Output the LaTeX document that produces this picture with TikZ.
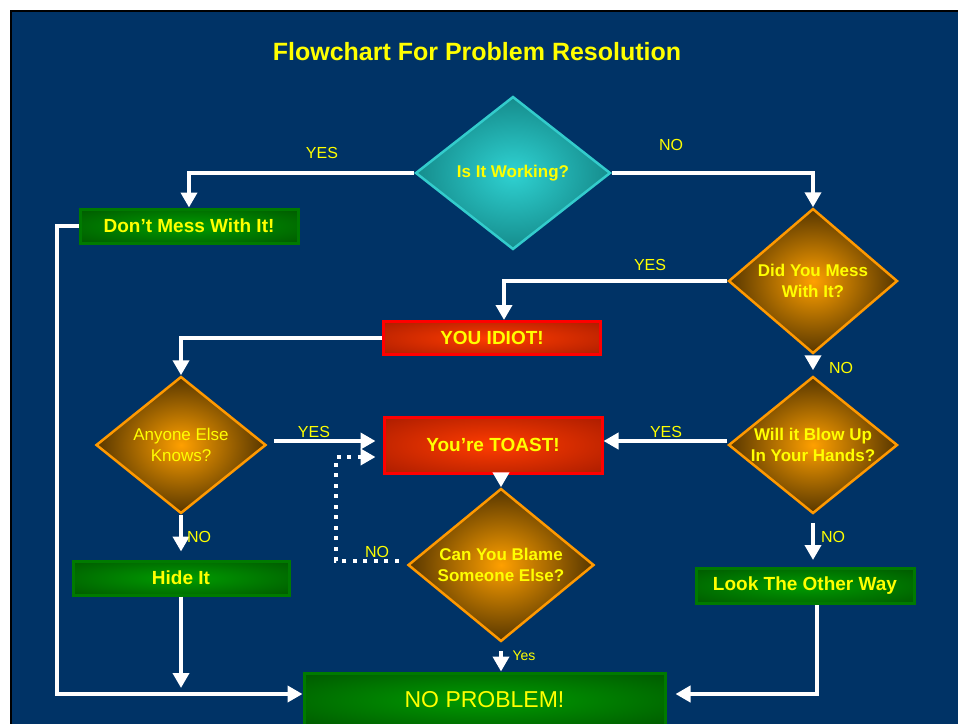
\documentclass[tikz,border=0pt]{standalone}
\usepackage{fontspec}
\setmainfont{Liberation Sans}
\usetikzlibrary{positioning, arrows.meta, shapes.geometric}
\definecolor{SlideBlue}{HTML}{003366}
\definecolor{TextYellow}{HTML}{FFFF00}
\definecolor{TealIn}{HTML}{2FD2D2}
\definecolor{TealOut}{HTML}{086868}
\definecolor{TealLine}{HTML}{33CCCC}
\definecolor{OrangeIn}{HTML}{FFA000}
\definecolor{OrangeOut}{HTML}{000000}
\definecolor{OrangeLine}{HTML}{FF9900}
\definecolor{RedIn}{HTML}{FF3C00}
\definecolor{RedOut}{HTML}{8A1000}
\definecolor{RedLine}{HTML}{FF0000}
\definecolor{GreenIn}{HTML}{009C00}
\definecolor{GreenOut}{HTML}{003E00}
\definecolor{GreenLine}{HTML}{007A00}
\pgfdeclareradialshading{tealglow}{\pgfpoint{0bp}{0bp}}{color(0bp)=(TealIn); color(38bp)=(TealOut); color(50bp)=(TealOut)}
\pgfdeclareradialshading{orangeglow}{\pgfpoint{0bp}{0bp}}{color(0bp)=(OrangeIn); color(38bp)=(OrangeOut); color(50bp)=(OrangeOut)}
\pgfdeclareradialshading{redglow}{\pgfpoint{0bp}{0bp}}{color(0bp)=(RedIn); color(50bp)=(RedOut)}
\pgfdeclareradialshading{greenglow}{\pgfpoint{0bp}{0bp}}{color(0bp)=(GreenIn); color(50bp)=(GreenOut)}

\begin{document}
\begin{tikzpicture}[
    x=1pt, y=-1pt,
    dia/.style={diamond, shading=orangeglow, draw=OrangeLine, line width=2.5pt, inner sep=0pt},
    qtext/.style={text=TextYellow, align=center, font=\fontsize{17}{21}\selectfont\bfseries},
    act/.style={rectangle, shading=greenglow, draw=GreenLine, line width=3pt,
                minimum width=218pt, minimum height=34pt, inner sep=0pt,
                text=TextYellow, font=\fontsize{19}{22}\selectfont\bfseries},
    alarm/.style={act, shading=redglow, draw=RedLine},
    lbl/.style={text=TextYellow, font=\fontsize{16}{18}\selectfont, inner sep=0pt},
    conn/.style={-{Triangle[length=15pt, width=16pt]}, white, line width=4.5pt},
    dotconn/.style={conn, dash pattern=on 4pt off 6.5pt}
]
  % Slide
  \useasboundingbox (0,0) rectangle (958,723);
  \fill[white] (0,0) rectangle (958,723);
  \filldraw[fill=SlideBlue, draw=black, line width=2pt] (11,11) rectangle (975,740);
  \node[text=TextYellow, font=\fontsize{25}{28}\selectfont\bfseries] (title) at (477,52)
    {Flowchart For Problem Resolution};

  % Questions
  \node[dia, shading=tealglow, draw=TealLine, minimum width=195pt, minimum height=153pt] (q1) at (513,173) {};
  \node[qtext] (q1t) at (q1) {Is It Working?};
  \node[dia, minimum width=169pt, minimum height=145pt] (q2) at (813,281) {};
  \node[qtext] (q2t) at (q2) {Did You Mess\\With It?};
  \node[dia, minimum width=170pt, minimum height=137pt] (q3) at (181,445) {};
  \node[qtext, font=\fontsize{17}{21}\selectfont] (q3t) at (q3) {Anyone Else\\Knows?};
  \node[dia, minimum width=169pt, minimum height=137pt] (q4) at (813,445) {};
  \node[qtext] (q4t) at (q4) {Will it Blow Up\\In Your Hands?};
  \node[dia, minimum width=186pt, minimum height=153pt] (q5) at (501,565) {};
  \node[qtext] (q5t) at (q5) {Can You Blame\\Someone Else?};

  % Outcomes
  \node[act] (b1) at (189,226) {Don't Mess With It!};
  \node[alarm, minimum width=217pt, minimum height=33pt] (b2) at (492,338) {YOU IDIOT!};
  \node[alarm, minimum height=56pt] (b3) at (493,445) {You're TOAST!};
  \node[act, minimum width=216pt] (b4) at (181,578) {Hide It};
  \node[act, minimum height=35pt] (b5) at (805,586) {Look The Other Way};
  \node[act, minimum width=361pt, minimum height=54pt,
        font=\fontsize{23}{26}\selectfont] (b6) at (484.5,700) {NO PROBLEM!};

  \coordinate (busL) at (57,694);
  \coordinate (busR) at (817,694);
  \coordinate (hEnd) at (181,688);

  % Connectors
  \draw[conn] (q1.west) -| (b1.north);
  \draw[conn] (q1.east) -| (q2.north);
  \draw[conn] (b1.west) -| (busL) -- (busL -| b6.west);
  \draw[conn] (q2.west) -| ([xshift=12pt]b2.north);
  \draw[conn, shorten <=3pt, shorten >=5pt] (q2.south) -- (q4.north);
  \draw[conn] (b2.west) -| (q3.north);
  \draw[conn, shorten <=7pt, shorten >=7pt] ([yshift=4pt]q3.east) -- ([yshift=4pt]b3.west);
  \draw[conn] ([yshift=4pt]q4.west) -- ([yshift=4pt]b3.east);
  \draw[conn] (q5.north |- b3.south) -- (q5.north);
  \draw[dotconn, shorten <=8pt, shorten >=7pt] ([yshift=4pt]q5.west) -- ++(-71,0) |- ([yshift=-12pt]b3.west);
  \draw[conn, shorten >=8pt] (q3.south) -- (b4.north);
  \draw[conn] (b4.south) -- (hEnd);
  \draw[conn, shorten <=8pt, shorten >=7pt] (q4.south) -- (q4.south |- b5.north);
  \draw[conn, shorten <=8pt] (q5.south) -- (q5.south |- b6.north);
  \draw[conn] (b5.south -| busR) -- (busR) -- ([xshift=9pt]b6.east |- busR);

  % Branch labels
  \node[lbl] (l1) at (322,153) {YES};
  \node[lbl] (l2) at (671,145) {NO};
  \node[lbl] (l3) at (650,265) {YES};
  \node[lbl] (l4) at (841,368) {NO};
  \node[lbl] (l5) at (314,432) {YES};
  \node[lbl] (l6) at (666,432) {YES};
  \node[lbl] (l7) at (199,537) {NO};
  \node[lbl] (l8) at (377,552) {NO};
  \node[lbl] (l9) at (833,537) {NO};
  \node[lbl, font=\fontsize{14}{16}\selectfont] (l10) at (524,656) {Yes};
\end{tikzpicture}
\end{document}
